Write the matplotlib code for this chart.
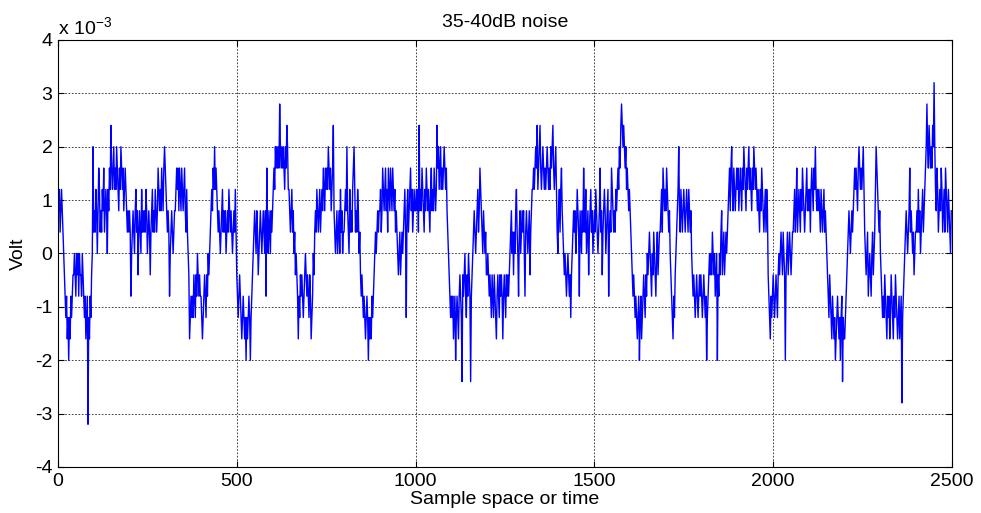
import numpy as np
import matplotlib.pyplot as plt
from matplotlib.ticker import FuncFormatter

# Quantised noise record: one letter per two samples.
# 'i' is 0 V, every letter above/below is one 0.4 mV quantiser step.
level_letters = "abcdefghijklmnopq"
zero_letter = "i"
volt_step = 0.4e-3
sample_step = 2

# 100 samples per string
noise_codes = [
    "lkljklkjihgfgefdfegfghhihgihigihhgihgfgefgafegfhin",
    "jkjlkikmljkjlkmjklkilkmlomlmnlmlnmlkmlnmlmklmlkjkj",
    "kjgijkjikljkhjkjiljkjkjlkijkjhjkljkjlkjkmlklkmlkmn",
    "mlkjkjgijkjijkklmlmkmlkmlklmkjljihefgfgfhgfhgihghg",
    "gfefghgfhgihijklkmlnlmlkjkjijkljkjkijkjlkjkjijkjlj",
    "hgfghgfefgfefdfefgfdfghijkjikjhijkjijkjikgmjikjikj",
    "klmlnmnmnmpnmnmnmlnmonllkjkljkijhihgegfhghgfghihgh",
    "gfhgefgihjkjlkjkljklkmlkmlmlnmlmklmokjijkijkiljkij",
    "jklknkjiljkjlmnljkjlkijhghgfgfefgfdfefegfghijijkjk",
    "kljkmlklmkljmlkmlkmlkljkjihijhijijkljfkljklmkljklk",
    "klkljoklkmlkjlkmlklkjlmklkmlklomnlmnlmlmnmlmkjihgf",
    "gfgefgdfgfeghgfchghigfhgihgcghijkjijkljkmlkjikjijh",
    "hihghgfhgfhgfeghgfhghgeghgfhghghijkijhjikljigjkijk",
    "jkigjkjijkhjkllmlmnmolmnomlmnmlmlmnmlmlnmnomlmnlji",
    "kljlmkjihihghihghfhijkjkijlkjgkjikjmkjlijkhjkljkij",
    "kjlkjijkmjkhjklkijklgjkjmlkjkjlklmlnmopononmnlmlkl",
    "kjihghgfgfefgdfgefghgfhgihijihgihjihgijhijjkljmlkl",
    "kmlkjkihgfegfhijklnkjlkjklkjklkjlkjkihghgfghgfghgh",
    "gfghgfgdfghihihjihighidhgihjkhijhijijklmkmnlkmlklm",
    "lmklmlkmlnmlkmlmnlmlkmlnmlmlklkjlkmlkjkljlkhgfegfg",
    "hgfghgfhihijihjihdhijhijihijjkljkmjklkjlkmlkjklmkl",
    "kljlmlkmlnlklklkjlkjkljkjihgfhgfegfefdefgfefdfgcfe",
    "efghijkjijkjklmlmlkmnmlmlmnljihijghihgijhijlnmlkjk",
    "ihgfgfhgfegfgefhgfegfhgfefgefgbfghijkjijkmjkjijhij",
    "jkjljkijkljklmnpnmonmnmonqnlkmljklkmljkljmlkjlkjik",
]

x_ticks = [0, 500, 1000, 1500, 2000, 2500]
y_ticks = [-4, -3, -2, -1, 0, 1, 2, 3, 4]   # in units of 1e-3 V

plt.rcParams['font.family'] = ['Liberation Sans', 'DejaVu Sans']
plt.rcParams['mathtext.default'] = 'regular'
plt.rcParams['font.size'] = 14

codes = "".join(noise_codes)
zero_idx = level_letters.index(zero_letter)
volts = np.array([(level_letters.index(c) - zero_idx) * volt_step for c in codes])
samples = np.arange(len(volts)) * sample_step

fig = plt.figure(figsize=(9.81, 5.13), dpi=100)
ax = fig.add_axes([0.0591, 0.0897, 0.9113, 0.8324])

ax.plot(samples, volts, color='#0000ff', linewidth=1.0)

ax.set_xlim(0, 2500)
ax.set_ylim(-4e-3, 4e-3)
ax.set_xticks(x_ticks)
ax.set_yticks([t * 1e-3 for t in y_ticks])
ax.yaxis.set_major_formatter(FuncFormatter(lambda v, pos: f"{round(v * 1e3):d}"))

# MATLAB-style dotted grid and inward ticks on every side
ax.grid(True, color='#222222', linestyle=(0, (2, 2)), linewidth=0.6)
ax.tick_params(direction='in', top=True, right=True, length=4, width=0.8,
               labelsize=14, pad=4)
for side in ax.spines.values():
    side.set_linewidth(0.8)
    side.set_color('black')

ax.set_title('35-40dB noise', fontsize=14, pad=9)
ax.set_xlabel('Sample space or time', fontsize=14, labelpad=1)
ax.set_ylabel('Volt', fontsize=14, labelpad=6)
ax.text(0.0, 1.005, r'x 10$^{-3}$', transform=ax.transAxes,
        ha='left', va='bottom', fontsize=14)

fig.savefig('out.png', dpi=100)
